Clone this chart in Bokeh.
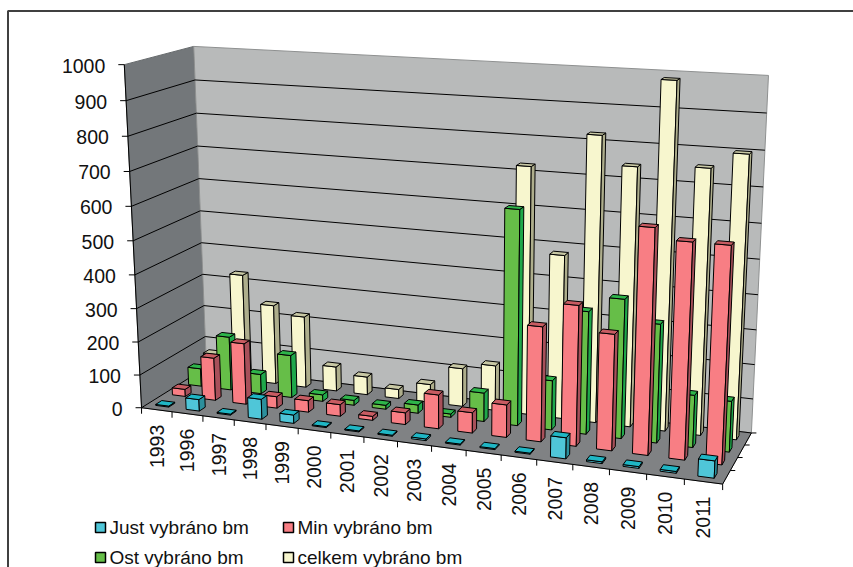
import math
import numpy as np
from bokeh.plotting import figure
from bokeh.models import ColumnDataSource, Range1d
from bokeh.embed import file_html
from bokeh.resources import INLINE
from bokeh.core.properties import value

years = ["1993","1996","1997","1998","1999","2000","2001","2002","2003","2004","2005","2006","2007","2008","2009","2010","2011"]
just = [3,35,3,60,25,3,3,3,5,3,3,3,60,5,5,5,48]
minv = [22,130,185,35,35,35,12,35,100,60,95,330,400,330,630,600,600]
ost = [55,165,60,130,20,15,12,25,10,85,625,145,355,400,340,150,145]
celkem = [70,330,245,220,75,55,28,55,115,135,725,480,825,745,985,755,800]
series_names = ["Just vybráno bm","Min vybráno bm","Ost vybráno bm","celkem vybráno bm"]
value_ticks = [0,100,200,300,400,500,600,700,800,900,1000]

# face colours per series: front, side, top
colors = [("#4fc6d8","#2c8f9c","#1fb6c4"),
          ("#f87e84","#a8505a","#c85c62"),
          ("#66be48","#1fa84a","#2eb54a"),
          ("#f7f6ce","#aeae8c","#c8c8a4")]

# perspective camera fitted to the corners of the chart box (u, v, value/1000) -> page pixel
corners = [((0,0,0),(141,407)),((1,0,0),(722,484)),((1,1,0),(751,432)),((0,1,0),(206,367)),
           ((0,0,1),(124,64)),((0,1,1),(193,46)),((1,1,1),(768,75))]
A=[];b=[]
for (X,Y,Z),(px,py) in corners:
    A.append([X,Y,Z,1,0,0,0,0,-px*X,-px*Y,-px*Z]); b.append(px)
    A.append([0,0,0,0,X,Y,Z,1,-py*X,-py*Y,-py*Z]); b.append(py)
m = np.linalg.lstsq(np.array(A,float),np.array(b,float),rcond=None)[0]
P = np.append(m,1.0).reshape(3,4)
def proj(u,v,val=0):
    q = P @ np.array([u,v,val/1000.0,1.0])
    return float(q[0]/q[2]), float(q[1]/q[2])
def poly(pts):
    c=[proj(*t) for t in pts]
    return [a[0] for a in c],[a[1] for a in c]

p = figure(width=853,height=567,x_range=Range1d(0,853),y_range=Range1d(567,0),
           toolbar_location=None,output_backend="svg",min_border=0,
           background_fill_color="white",border_fill_color="white",outline_line_color=None)
p.xaxis.visible=False; p.yaxis.visible=False; p.grid.visible=False

# outer frame: left and top only, running off the page
p.line([7.5,7.5,853],[567,10.5,10.5],line_color="#404040",line_width=2)

# walls and floor
walls=[([(0,0,0),(0,1,0),(0,1,1000),(0,0,1000)],"#73777a","#666a6c"),
       ([(0,1,0),(1,1,0),(1,1,1000),(0,1,1000)],"#b8baba","#8e9090"),
       ([(0,0,0),(1,0,0),(1,1,0),(0,1,0)],"#808284","#808284")]
p.patches([poly(w[0])[0] for w in walls],[poly(w[0])[1] for w in walls],
          fill_color=[w[1] for w in walls],line_color=[w[2] for w in walls],line_width=1)

# gridlines on the walls, value ticks and labels
for t in value_ticks[:-1]:
    xs,ys=poly([(0,0,t),(0,1,t),(1,1,t)])
    p.line(xs,ys,line_color="black",line_width=1)
for t in value_ticks:
    x0,y0=proj(0,0,t)
    p.line([x0-6,x0],[y0,y0],line_color="black",line_width=1)
xs,ys=poly([(0,0,0),(0,0,1000)]); p.line(xs,ys,line_color="black",line_width=1)
xs,ys=poly([(0,0,0),(1,0,0),(1,1,0)]); p.line(xs,ys,line_color="black",line_width=1)
lab=[proj(0,0,t) for t in value_ticks]
p.text([a[0]-19 for a in lab],[a[1]+1 for a in lab],text=[str(t) for t in value_ticks],
       text_align="right",text_baseline="middle",text_font=value("Liberation Sans"),
       text_font_size="19.5px",text_color="#111111")

# category ticks and labels
n=len(years)
for i in range(n+1):
    x0,y0=proj(i/n,0,0)
    p.line([x0,x0],[y0,y0+6],line_color="black",line_width=1)
for v in (0.25,0.5,0.75,1.0):
    x0,y0=proj(1,v,0)
    p.line([x0,x0+5],[y0,y0],line_color="black",line_width=1)
lab=[proj((i+.5)/n,0,0) for i in range(n)]
p.text([a[0] for a in lab],[a[1]+15 for a in lab],text=years,angle=math.pi/2,
       text_align="right",text_baseline="middle",text_font=value("Liberation Sans"),
       text_font_size="19.5px",text_color="#111111")

# bars, back row first
bw=0.43/n; bd=0.09
X=[];Y=[];C=[]
rows=[just,minv,ost,celkem]
for r in (3,2,1,0):
    v0=(r+.5)/4-bd/2; v1=v0+bd
    for i,val in enumerate(rows[r]):
        u0=(i+.5)/n-bw/2; u1=u0+bw
        front,side,top=colors[r]
        for pts,col in (([(u0,v0,0),(u1,v0,0),(u1,v0,val),(u0,v0,val)],front),
                        ([(u1,v0,0),(u1,v1,0),(u1,v1,val),(u1,v0,val)],side),
                        ([(u0,v0,val),(u1,v0,val),(u1,v1,val),(u0,v1,val)],top)):
            a,b_=poly(pts); X.append(a);Y.append(b_);C.append(col)
p.patches("x","y",source=ColumnDataSource(dict(x=X,y=Y,c=C)),fill_color="c",line_color="black",line_width=1)

# legend
leg=[(95,522),(283,522),(95,552),(283,552)]
for (lx,ly),k in zip(leg,[0,1,2,3]):
    p.patch([lx,lx+10,lx+10,lx],[ly,ly,ly+10,ly+10],fill_color=colors[k][0],line_color="black",line_width=1.5)
p.text([l[0]+14 for l in leg],[l[1]+5 for l in leg],text=series_names,text_align="left",text_baseline="middle",
       text_font=value("Liberation Sans"),text_font_size="19px",text_color="#111111")

open("out.html","w").write(file_html(p,INLINE))
